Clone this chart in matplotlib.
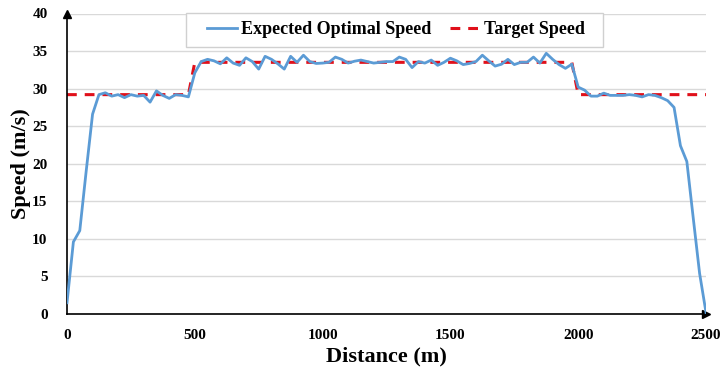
import numpy as np
import matplotlib
matplotlib.use('Agg')
import matplotlib.pyplot as plt
from matplotlib.patches import Rectangle

plt.rcParams['font.family'] = ['Liberation Serif', 'DejaVu Serif']
plt.rcParams['font.weight'] = 'bold'

# Distance samples every 25 m along the route
distance = np.arange(0, 2501, 25)

# Expected optimal speed (m/s) at each sample
optimal_speed = [
    1.5, 9.6, 11.1, 19.0, 26.6, 29.2, 29.45, 29.0, 29.2, 28.8,
    29.2, 29.0, 29.1, 28.2, 29.7, 29.1, 28.7, 29.2, 29.1, 28.9,
    32.1, 33.6, 33.9, 33.7, 33.3, 34.1, 33.4, 33.1, 34.1, 33.6,
    32.6, 34.3, 33.9, 33.3, 32.6, 34.3, 33.5, 34.45, 33.6, 33.35,
    33.4, 33.5, 34.2, 33.9, 33.4, 33.65, 33.8, 33.6, 33.4, 33.5,
    33.6, 33.6, 34.2, 33.9, 32.8, 33.6, 33.4, 33.8, 33.1, 33.5,
    34.05, 33.7, 33.2, 33.35, 33.6, 34.45, 33.7, 33.0, 33.25, 33.9,
    33.2, 33.5, 33.5, 34.2, 33.4, 34.7, 33.9, 33.2, 32.7, 33.25,
    30.2, 29.8, 29.0, 29.0, 29.4, 29.1, 29.1, 29.1, 29.2, 29.1,
    28.9, 29.2, 29.1, 28.8, 28.4, 27.5, 22.4, 20.3, 12.8, 5.4,
    0.2,
]

# Target speed profile (m/s)
target_speed = [29.2] * 20 + [33.5] * 60 + [29.2] * 21

fig = plt.figure(figsize=(7.22, 3.74), dpi=100)
ax = fig.add_axes([67 / 722, 60 / 374, 639 / 722, 300.5 / 374])

ax.plot(distance, optimal_speed, color='#5B9BD5', lw=2, label='Expected Optimal Speed', zorder=3)
ax.plot(distance, target_speed, color='#E0101A', lw=2.2, ls=(0, (3.2, 2.6)), label='Target Speed', zorder=2)

ax.set_xlim(0, 2500)
ax.set_ylim(0, 40)
ax.set_xticks(range(0, 2501, 500))
ax.set_yticks(range(0, 41, 5))
ax.tick_params(length=0, labelsize=11)
ax.tick_params(axis='x', pad=11)
ax.tick_params(axis='y', pad=14)
for lbl in ax.get_xticklabels() + ax.get_yticklabels():
    lbl.set_fontweight('bold')

ax.grid(axis='y', color='#D9D9D9', lw=1)
ax.set_axisbelow(True)
for side in ['top', 'right']:
    ax.spines[side].set_visible(False)
for side in ['left', 'bottom']:
    ax.spines[side].set_color('black')
    ax.spines[side].set_linewidth(1.2)

# arrow heads on the axes
ax.plot(0, 1, marker='^', color='black', ms=6, transform=ax.transAxes, clip_on=False)
ax.plot(1, 0, marker='>', color='black', ms=6, transform=ax.transAxes, clip_on=False)

ax.set_xlabel('Distance (m)', fontsize=16, fontweight='bold', labelpad=3)
ax.set_ylabel('Speed (m/s)', fontsize=16, fontweight='bold', labelpad=1)

# legend box drawn separately so it can be wider than the entries
ax.add_patch(Rectangle((0.186, 0.888), 0.653, 0.115, transform=ax.transAxes,
                       facecolor='white', edgecolor='#D0D0D0', lw=1, zorder=4, clip_on=False))
leg = ax.legend(loc='center', bbox_to_anchor=(0.515, 0.9455), ncol=2, frameon=False,
                prop={'family': 'Liberation Serif', 'weight': 'bold', 'size': 13},
                handlelength=1.65, columnspacing=1.0, handletextpad=0.25, borderpad=0)
leg.set_zorder(5)

fig.savefig('out.png', dpi=100)
